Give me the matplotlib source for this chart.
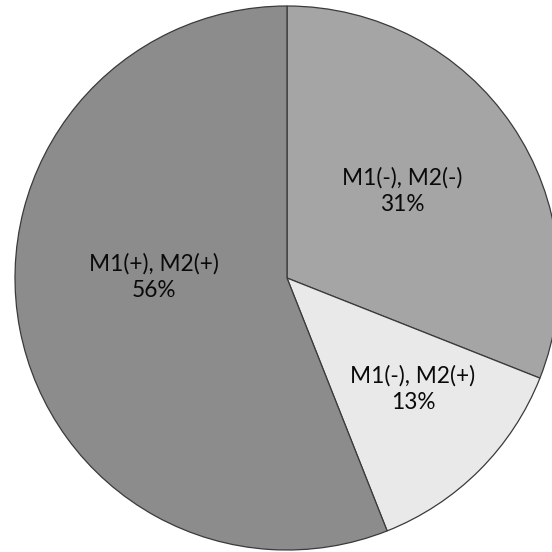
import matplotlib
matplotlib.use("Agg")
import matplotlib.pyplot as plt

categories = ["M1(-), M2(-)", "M1(-), M2(+)", "M1(+), M2(+)"]
values = [31, 13, 56]
colors = ["#a5a5a5", "#e9e9e9", "#8c8c8c"]
# label centre positions (pixels) -> layout only
label_px = [(402, 191), (413, 389), (154, 277)]

W = H = 552
cx, cy, R = 287, 278, 272

fig = plt.figure(figsize=(W / 100, H / 100), dpi=100)
ax = fig.add_axes([0, 0, 1, 1])
ax.pie(values, colors=colors, startangle=90, counterclock=False,
       radius=1, center=(0, 0),
       wedgeprops=dict(edgecolor="#3a3a3a", linewidth=0.9))
ax.set_xlim(-cx / R, (W - cx) / R)
ax.set_ylim(-(H - cy) / R, cy / R)
ax.set_aspect("equal")
ax.axis("off")

for cat, v, (px, py) in zip(categories, values, label_px):
    x = (px - cx) / R
    y = (cy - py) / R
    ax.text(x, y, f"{cat}\n{v}%", ha="center", va="center",
            fontsize=16.3, family=["Lato", "DejaVu Sans"], color="#0a0a0a",
            linespacing=1.3)

fig.savefig("out.png", dpi=100)
